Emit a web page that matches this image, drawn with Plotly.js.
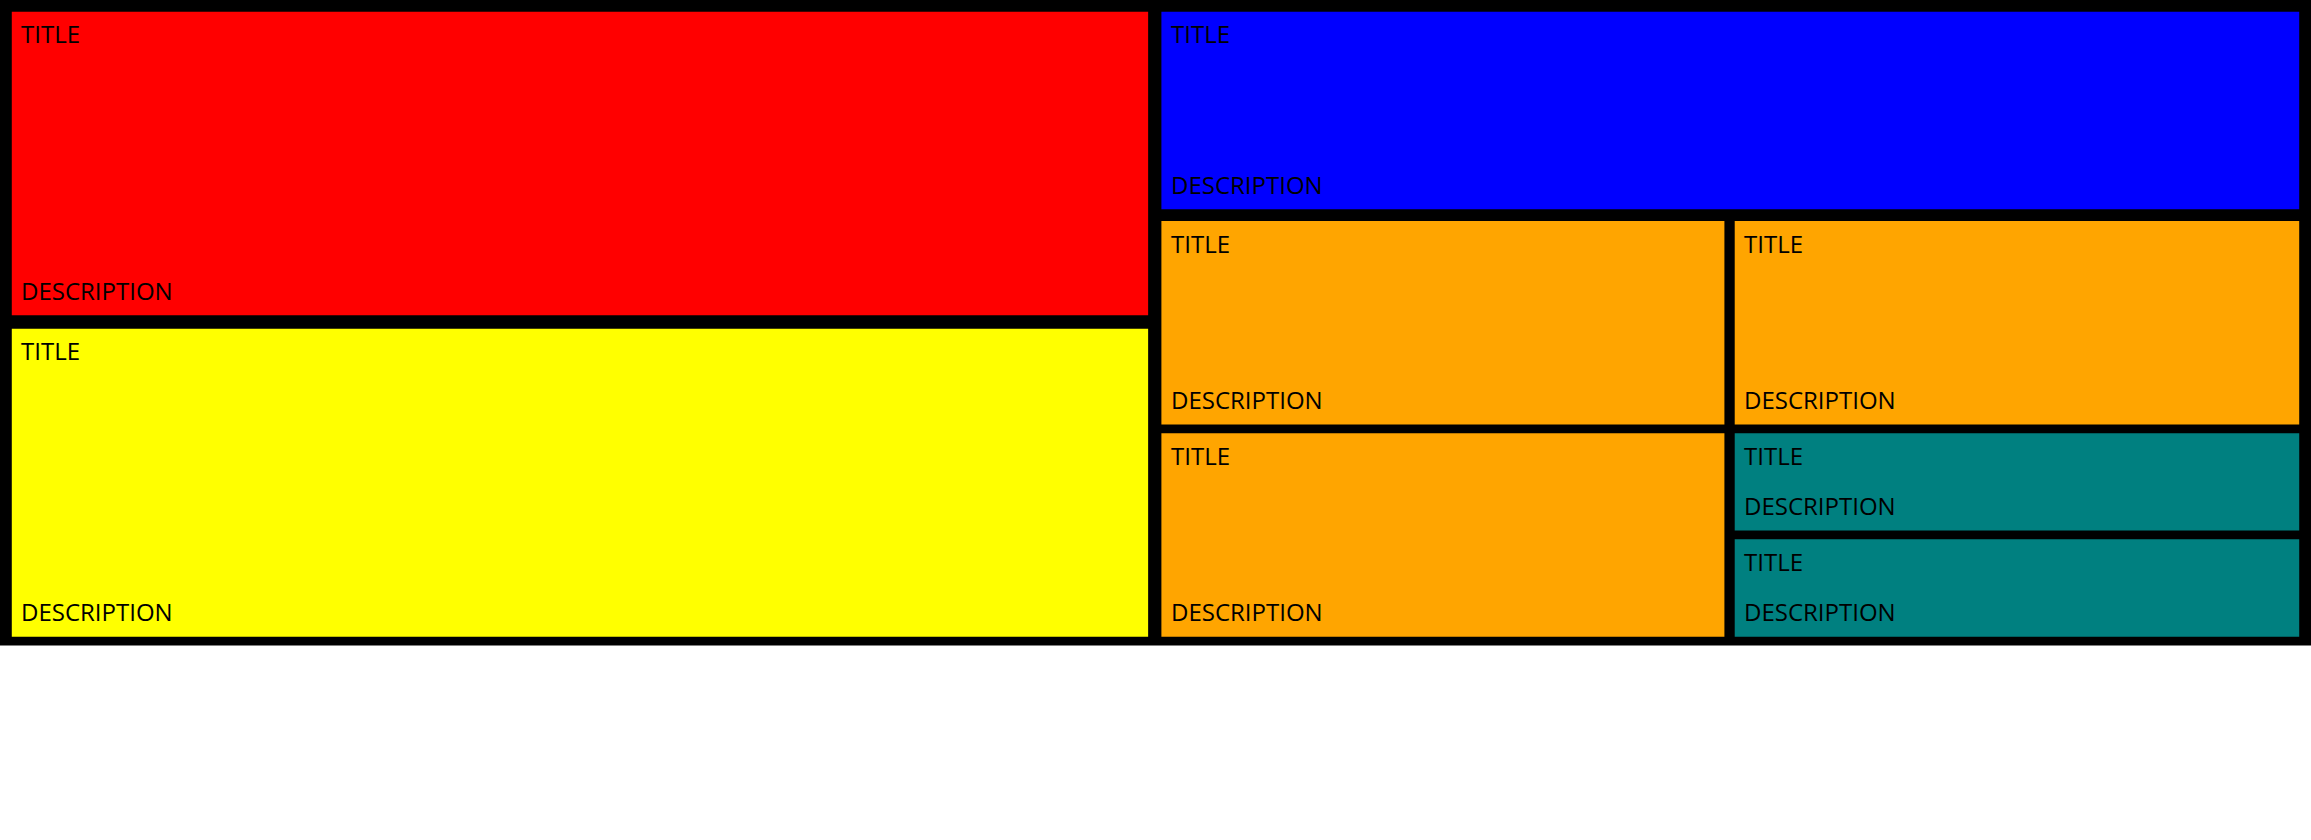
<!DOCTYPE html>
<html><head><script src="https://cdn.plot.ly/plotly-3.0.1.min.js"></script>
<style>body{margin:0}</style></head><body><div id="c" style="width:2311px;height:840px"></div>
<script>
const x0s=[8,8,788,788,1177,788,1177,1177];
const x1s=[779,779,1560,1170,1560,1170,1560,1560];
const y0s=[8,223,8,150,150,294,294,366];
const y1s=[214,432,142,288,288,432,360,432];
const colors=['#ff0000','#ffff00','#0000ff','#ffa500','#ffa500','#ffa500','#008080','#008080'];
const titles=['TITLE','TITLE','TITLE','TITLE','TITLE','TITLE','TITLE','TITLE'];
const descs=['DESCRIPTION','DESCRIPTION','DESCRIPTION','DESCRIPTION','DESCRIPTION','DESCRIPTION','DESCRIPTION','DESCRIPTION'];
const shapes=[{type:'rect',xref:'x',yref:'y',x0:0,x1:1568,y0:0,y1:438,fillcolor:'#000',line:{width:0},layer:'below'}];
const ann=[];
const f={family:'Open Sans',size:24,color:'#000'};
for(let i=0;i<x0s.length;i++){
 shapes.push({type:'rect',xref:'x',yref:'y',x0:x0s[i],x1:x1s[i],y0:y0s[i],y1:y1s[i],fillcolor:colors[i],line:{width:0},layer:'below'});
 ann.push({x:x0s[i]+5,y:y0s[i]+15,text:titles[i],showarrow:false,xanchor:'left',yanchor:'middle',font:f});
 ann.push({x:x0s[i]+5,y:y1s[i]-17,text:descs[i],showarrow:false,xanchor:'left',yanchor:'middle',font:f});
}
Plotly.newPlot('c',[{x:[0],y:[0],mode:'markers',marker:{opacity:0},hoverinfo:'skip',showlegend:false}],{
 width:2311,height:840,margin:{l:0,r:0,t:0,b:0},paper_bgcolor:'#fff',plot_bgcolor:'#fff',
 xaxis:{range:[0,1568],visible:false,fixedrange:true},
 yaxis:{range:[570,0],visible:false,fixedrange:true},
 shapes:shapes,annotations:ann,showlegend:false},{staticPlot:true});
</script></body></html>
